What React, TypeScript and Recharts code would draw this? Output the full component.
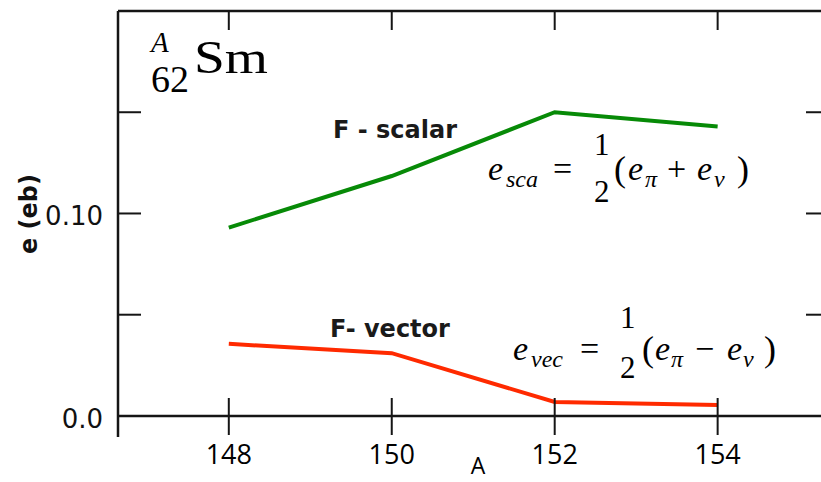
import { LineChart, Line, XAxis, YAxis, ReferenceLine } from "recharts";

// mass number A and the two F-spin charges (eb)
const massNumbers = [148, 150, 152, 154];
const scalarValues = [0.093, 0.1185, 0.15, 0.143];
const vectorValues = [0.0356, 0.031, 0.0069, 0.0054];

const xTicks = [148, 150, 152, 154];
const yTicks = [0, 0.05, 0.1, 0.15];
const yTickLabels: Record<string, string> = { "0": "0.0", "0.1": "0.10" };

const xDomain: [number, number] = [146.64, 155.33];
const yDomain: [number, number] = [-0.0104, 0.2];

const INK = "#151515";
const GREEN = "#078a07";
const RED = "#ff2a00";

const data = massNumbers.map((a, i) => ({
  a,
  scalar: scalarValues[i],
  vector: vectorValues[i],
}));

const BottomTick = (props: any) => {
  const { x, y, payload } = props;
  return (
    <g>
      <line x1={x} x2={x} y1={y - 39} y2={y - 2} stroke={INK} strokeWidth={2} />
      <text
        x={x}
        y={y + 27}
        textAnchor="middle"
        fontFamily="'Open Sans', sans-serif"
        fontSize={27}
        fill="#000"
      >
        {payload.value}
      </text>
    </g>
  );
};

const TopTick = (props: any) => {
  const { x, y } = props;
  return <line x1={x} x2={x} y1={y} y2={y + 19} stroke={INK} strokeWidth={2} />;
};

const LeftTick = (props: any) => {
  const { x, y, payload } = props;
  const v = payload.value;
  const label = yTickLabels[String(v)];
  return (
    <g>
      {v > 0 && <line x1={x} x2={x + 23} y1={y} y2={y} stroke={INK} strokeWidth={2} />}
      {label && (
        <text
          x={x - 15}
          y={y + 12}
          textAnchor="end"
          fontFamily="'DejaVu Sans', sans-serif"
          fontSize={26}
          fill="#111"
        >
          {label}
        </text>
      )}
    </g>
  );
};

const RightTick = (props: any) => {
  const { x, y, payload } = props;
  if (payload.value <= 0) return <g />;
  return <line x1={x - 20} x2={x} y1={y} y2={y} stroke={INK} strokeWidth={2} />;
};

const serif = "'Liberation Serif', 'DejaVu Serif', serif";

export default function App() {
  return (
    <div
      style={{
        position: "absolute",
        left: 0,
        top: 0,
        width: 821,
        height: 482,
        overflow: "hidden",
        background: "#fff",
      }}
    >
      <LineChart
        width={840}
        height={482}
        data={data}
        margin={{ top: 0, right: 0, bottom: 0, left: 0 }}
      >
        <XAxis
          dataKey="a"
          type="number"
          domain={xDomain}
          allowDataOverflow
          ticks={xTicks}
          interval={0}
          height={45}
          axisLine={false}
          tickLine={false}
          tickSize={0}
          tickMargin={0}
          tick={<BottomTick />}
        />
        <XAxis
          xAxisId="top"
          dataKey="a"
          type="number"
          orientation="top"
          domain={xDomain}
          allowDataOverflow
          ticks={xTicks}
          interval={0}
          height={11}
          axisLine={{ stroke: INK, strokeWidth: 2.5 }}
          tickLine={false}
          tickSize={0}
          tickMargin={0}
          tick={<TopTick />}
        />
        <YAxis
          type="number"
          domain={yDomain}
          allowDataOverflow
          ticks={yTicks}
          interval={0}
          width={118}
          axisLine={{ stroke: INK, strokeWidth: 2.5 }}
          tickLine={false}
          tickSize={0}
          tickMargin={0}
          tick={<LeftTick />}
        />
        <YAxis
          yAxisId="right"
          orientation="right"
          type="number"
          domain={yDomain}
          allowDataOverflow
          ticks={yTicks}
          interval={0}
          width={14}
          axisLine={{ stroke: INK, strokeWidth: 2.5 }}
          tickLine={false}
          tickSize={0}
          tickMargin={0}
          tick={<RightTick />}
        />
        <ReferenceLine y={0} stroke={INK} strokeWidth={2.5} />
        <Line
          dataKey="scalar"
          type="linear"
          stroke={GREEN}
          strokeWidth={4}
          dot={false}
          isAnimationActive={false}
        />
        <Line
          dataKey="vector"
          type="linear"
          stroke={RED}
          strokeWidth={4}
          dot={false}
          isAnimationActive={false}
        />
      </LineChart>

      <svg
        width={821}
        height={482}
        style={{ position: "absolute", left: 0, top: 0, pointerEvents: "none" }}
      >
        {/* nucleus label */}
        <text x={151} y={52} fontFamily={serif} fontStyle="italic" fontSize={29}>A</text>
        <text x={151} y={92} fontFamily={serif} fontSize={38}>62</text>
        <text x={194} y={73} fontFamily={serif} fontSize={46} textLength={74} lengthAdjust="spacingAndGlyphs">Sm</text>

        {/* axis titles */}
        <text
          x={0}
          y={0}
          transform="translate(37 214) rotate(-90)"
          textAnchor="middle"
          fontFamily="'DejaVu Sans', sans-serif"
          fontWeight="bold"
          fontSize={24}
          fill="#111"
        >
          e (eb)
        </text>
        <text x={478} y={474} textAnchor="middle" fontFamily="'Open Sans', sans-serif" fontSize={23}>A</text>

        {/* series names */}
        <text x={333} y={138} fontFamily="'DejaVu Sans', sans-serif" fontWeight="bold" fontSize={24} fill="#1a1a1a">F - scalar</text>
        <text x={330} y={337} fontFamily="'DejaVu Sans', sans-serif" fontWeight="bold" fontSize={24} fill="#1a1a1a">F- vector</text>

        {/* e_sca formula */}
        <g fontFamily={serif} fill="#000">
          <text x={488} y={180} fontStyle="italic" fontSize={34}>e</text>
          <text x={506} y={187} fontStyle="italic" fontSize={24}>sca</text>
          <text x={553} y={180} fontSize={34}>=</text>
          <text x={594} y={155} fontSize={31}>1</text>
          <text x={594} y={202} fontSize={31}>2</text>
          <text x={614} y={181} fontSize={36}>(</text>
          <text x={628} y={180} fontStyle="italic" fontSize={34}>e</text>
          <text x={645} y={187} fontStyle="italic" fontSize={24}>π</text>
          <text x={667} y={180} fontSize={34}>+</text>
          <text x={697} y={180} fontStyle="italic" fontSize={34}>e</text>
          <text x={714} y={187} fontStyle="italic" fontSize={24}>ν</text>
          <text x={737} y={181} fontSize={36}>)</text>
        </g>

        {/* e_vec formula */}
        <g fontFamily={serif} fill="#000">
          <text x={513} y={360} fontStyle="italic" fontSize={34}>e</text>
          <text x={531} y={367} fontStyle="italic" fontSize={24}>vec</text>
          <text x={580} y={360} fontSize={34}>=</text>
          <text x={620} y={328} fontSize={31}>1</text>
          <text x={620} y={378} fontSize={31}>2</text>
          <text x={642} y={361} fontSize={36}>(</text>
          <text x={655} y={360} fontStyle="italic" fontSize={34}>e</text>
          <text x={671} y={367} fontStyle="italic" fontSize={24}>π</text>
          <text x={695} y={360} fontSize={34}>−</text>
          <text x={727} y={360} fontStyle="italic" fontSize={34}>e</text>
          <text x={743} y={367} fontStyle="italic" fontSize={24}>ν</text>
          <text x={764} y={361} fontSize={36}>)</text>
        </g>
      </svg>
    </div>
  );
}
